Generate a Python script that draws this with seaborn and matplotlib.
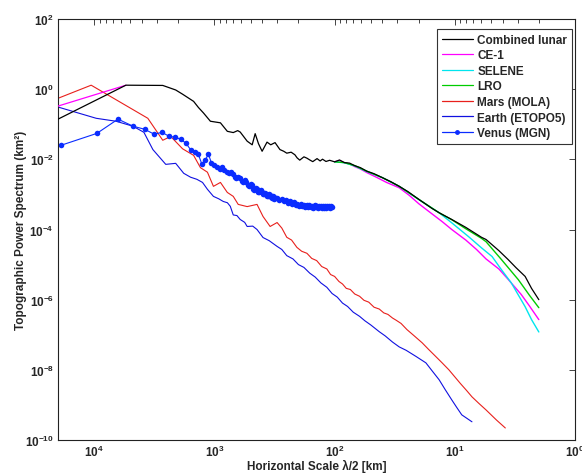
import matplotlib
matplotlib.use("Agg")
import matplotlib.pyplot as plt
import seaborn as sns
from matplotlib.ticker import LogLocator, NullLocator, NullFormatter
from matplotlib.lines import Line2D

# values: x = lambda/2 [km], y = power [km^2]
lunar_x = [20000, 5450, 2690, 2100, 1840, 1490, 1357, 1233, 1080, 891, 781, 697, 640, 610,
           534, 485, 458, 430, 401, 365, 340, 313, 285, 265, 250, 230, 214, 205, 195, 180,
           170, 160, 152, 140, 132, 126, 118, 110, 100, 91, 83, 75, 68, 61, 54, 47, 40, 34,
           29, 24.5, 19.9, 15.5, 13.5, 10.6, 8.1, 6.0, 5.5, 4.3, 3.6, 3.1, 2.6, 2.3, 2.0]
lunar_y = [0.14, 1.30, 1.28, 0.95, 0.72, 0.45, 0.30, 0.21, 0.122, 0.110, 0.063, 0.058, 0.066, 0.060,
           0.033, 0.026, 0.054, 0.028, 0.017, 0.031, 0.026, 0.030, 0.019, 0.017, 0.015, 0.016, 0.0135,
           0.0110, 0.0095, 0.0118, 0.0108, 0.0095, 0.0086, 0.0105, 0.0090, 0.0101, 0.0087, 0.0094,
           0.0085, 0.0096, 0.0081, 0.0078, 0.0066, 0.0058, 0.0046, 0.0039, 0.0030, 0.0023, 0.0017,
           0.0012, 7.2e-4, 4.0e-4, 3.0e-4, 1.93e-4, 1.15e-4, 6.0e-5, 5.2e-5, 2.5e-5, 1.39e-5,
           8.2e-6, 4.6e-6, 2.1e-6, 1.0e-6]

ce1_left_x = [20000, 5450]
ce1_left_y = [0.33, 1.30]
ce1_x = [100, 91, 83, 75, 68, 61, 54, 45, 37, 29, 24, 19.9, 15.5, 12.8, 10.6, 8.1, 6.6, 5.5,
         4.3, 3.6, 2.8, 2.4, 2.0]
ce1_y = [0.0085, 0.0093, 0.0080, 0.0074, 0.0062, 0.0053, 0.0042, 0.0031, 0.0022, 0.00155,
         9.5e-4, 5.4e-4, 2.8e-4, 1.7e-4, 1.0e-4, 5.0e-5, 2.7e-5, 1.45e-5, 7.5e-6, 3.8e-6,
         1.4e-6, 6.7e-7, 2.7e-7]

selene_x = [100, 83, 68, 54, 40, 29, 19.9, 13.5, 10.6, 7.7, 6.0, 4.9, 4.1, 3.4, 2.6, 2.3, 2.0]
selene_y = [0.0085, 0.0080, 0.0065, 0.0045, 0.0030, 0.0017, 7.1e-4, 3.0e-4, 1.55e-4, 6.3e-5,
            3.0e-5, 1.7e-5, 7.2e-6, 3.06e-6, 6.3e-7, 2.7e-7, 1.2e-7]

lro_x = [100, 83, 68, 54, 40, 29, 19.9, 13.5, 10.6, 8.1, 6.0, 5.5, 4.1, 2.96, 2.4, 2.0]
lro_y = [0.0085, 0.0081, 0.0066, 0.0046, 0.0030, 0.0017, 7.2e-4, 3.0e-4, 1.9e-4, 1.05e-4,
         5.6e-5, 4.5e-5, 1.4e-5, 3.7e-6, 1.35e-6, 5.9e-7]

mars_x = [20000, 10600, 3580, 2690, 2310, 1840, 1490, 1307, 1143, 1019, 891, 781, 697, 634,
          534, 442, 394, 344, 301, 275, 250, 228, 206, 188, 170, 155, 141, 128, 116, 108, 100,
          92, 86, 80, 74, 68, 62, 57, 52, 47, 42.5, 39, 36, 33, 30.8, 28, 25, 22, 18.7, 16.5,
          14.5, 12.8, 11.2, 10, 9, 8, 7.2, 6.3, 5.5, 4.5, 3.8]
mars_y = [0.55, 1.30, 0.148, 0.035, 0.045, 0.020, 0.013, 0.0058, 0.0043, 0.0017, 0.0022,
          0.00114, 8.8e-4, 5.2e-4, 4.5e-4, 5.2e-4, 2.35e-4, 1.22e-4, 1.58e-4, 1.1e-4, 6.0e-5,
          5.0e-5, 3.1e-5, 2.4e-5, 2.1e-5, 1.5e-5, 1.3e-5, 8.8e-6, 7.5e-6, 5.2e-6, 4.6e-6,
          3.3e-6, 2.8e-6, 2.1e-6, 1.95e-6, 1.45e-6, 1.25e-6, 9.6e-7, 8.5e-7, 6.1e-7, 5.4e-7,
          4.2e-7, 3.8e-7, 3.0e-7, 2.6e-7, 2.1e-7, 1.4e-7, 9.6e-8, 5.9e-8, 3.8e-8, 2.45e-8,
          1.6e-8, 1.0e-8, 6.3e-9, 4.1e-9, 2.6e-9, 1.7e-9, 1.1e-9, 7.2e-10, 3.7e-10, 2.2e-10]

earth_x = [20000, 9620, 6580, 4760, 3860, 3250, 2540, 2100, 1800, 1580, 1400, 1256, 1143, 1019,
           920, 844, 780, 738, 697, 650, 610, 560, 534, 480, 442, 394, 350, 301, 275, 250, 222,
           200, 180, 161, 145, 130, 116, 105, 95, 86, 78, 70, 62, 56, 50, 42.5, 38, 33, 29,
           25.4, 21, 17.4, 15.5, 13.5, 12, 10.6, 9.6, 8.75, 7.9, 7.2]
earth_y = [0.31, 0.148, 0.122, 0.088, 0.059, 0.019, 0.0072, 0.0077, 0.0040, 0.0031, 0.0027,
           0.0022, 0.0014, 8.8e-4, 7.5e-4, 6.3e-4, 5.8e-4, 4.6e-4, 2.6e-4, 2.5e-4, 1.93e-4,
           1.6e-4, 1.22e-4, 1.25e-4, 1.0e-4, 5.9e-5, 4.8e-5, 3.3e-5, 2.7e-5, 1.8e-5, 1.45e-5,
           1.0e-5, 8.3e-6, 5.7e-6, 4.4e-6, 3.0e-6, 2.25e-6, 1.5e-6, 1.18e-6, 8.0e-7, 6.4e-7,
           4.4e-7, 3.35e-7, 2.5e-7, 1.9e-7, 1.22e-7, 9.3e-8, 6.2e-8, 4.5e-8, 3.6e-8, 2.4e-8,
           1.58e-8, 9.5e-9, 5.2e-9, 2.7e-9, 1.39e-9, 8.3e-10, 5.2e-10, 4.1e-10, 3.3e-10]

venus_x = [19000, 9500, 6340, 4750, 3800, 3170, 2720, 2380, 2110, 1900, 1730, 1580, 1460, 1360,
           1270, 1190, 1120, 1060, 1000, 951,
           905, 864, 827, 792, 760, 731, 704, 679, 656, 634, 613, 594, 576, 559, 543, 528, 514,
           500, 487, 475, 464, 453, 442, 432, 422, 413, 404, 396, 388, 380, 373, 366, 359, 352,
           346, 340, 334, 328, 322, 317,
           302, 288, 276, 264, 254, 244, 235, 226, 219, 211, 204, 198, 192, 186, 181, 176, 171,
           167, 163, 158, 155, 151, 147, 144, 141, 138, 135, 132, 129, 127, 124, 122, 120, 117,
           115, 113, 111, 109, 107, 106]
venus_y = [0.025, 0.055, 0.140, 0.088, 0.072, 0.052, 0.059, 0.045, 0.043, 0.037, 0.029, 0.019,
           0.0158, 0.0139, 0.0072, 0.0098, 0.0139, 0.0080, 0.0068, 0.0062,
           5.2e-3, 5.9e-3, 5.0e-3, 4.4e-3, 4.0e-3, 4.3e-3, 3.9e-3, 3.1e-3, 2.9e-3, 3.2e-3,
           2.9e-3, 2.4e-3, 2.3e-3, 2.5e-3, 2.3e-3, 1.85e-3, 1.75e-3, 2.0e-3, 1.8e-3, 1.45e-3,
           1.38e-3, 1.55e-3, 1.45e-3, 1.2e-3, 1.15e-3, 1.3e-3, 1.2e-3, 1.05e-3, 1.0e-3, 1.12e-3,
           1.05e-3, 9.2e-4, 9.0e-4, 1.0e-3, 9.4e-4, 8.3e-4, 8.0e-4, 9.0e-4, 8.6e-4, 7.6e-4,
           8.1e-4, 6.8e-4, 7.3e-4, 6.3e-4, 6.8e-4, 5.7e-4, 6.3e-4, 5.4e-4, 5.9e-4, 5.0e-4,
           5.5e-4, 4.8e-4, 5.3e-4, 4.6e-4, 5.1e-4, 4.5e-4, 5.0e-4, 4.4e-4, 4.9e-4, 4.3e-4,
           4.8e-4, 4.2e-4, 4.9e-4, 4.3e-4, 4.7e-4, 4.1e-4, 4.8e-4, 4.3e-4, 4.6e-4, 4.0e-4,
           4.7e-4, 4.2e-4, 4.6e-4, 4.1e-4, 4.7e-4, 4.3e-4, 4.8e-4, 4.2e-4, 4.6e-4, 4.4e-4]

sns.set_style("white")
plt.rcParams["font.family"] = ["Liberation Sans", "DejaVu Sans"]
plt.rcParams["font.weight"] = "bold"
plt.rcParams["axes.labelweight"] = "bold"

fig, ax = plt.subplots(figsize=(5.82, 4.77), dpi=100)
fig.subplots_adjust(left=0.0997, right=0.988, bottom=0.0755, top=0.958)

kw = dict(ax=ax, estimator=None, sort=False, legend=False)
sns.lineplot(x=lunar_x, y=lunar_y, color="black", lw=0.9, zorder=4, **kw)
sns.lineplot(x=ce1_left_x, y=ce1_left_y, color="#ff00ff", lw=0.9, zorder=3, **kw)
sns.lineplot(x=ce1_x, y=ce1_y, color="#ff00ff", lw=1.0, zorder=3, **kw)
sns.lineplot(x=selene_x, y=selene_y, color="#00e5ee", lw=1.0, zorder=3, **kw)
sns.lineplot(x=lro_x, y=lro_y, color="#00cc00", lw=1.0, zorder=3, **kw)
sns.lineplot(x=mars_x, y=mars_y, color="#e8201c", lw=0.8, zorder=2, **kw)
sns.lineplot(x=earth_x, y=earth_y, color="#1010e0", lw=0.8, zorder=2, **kw)
sns.lineplot(x=venus_x, y=venus_y, color="#0a2cff", lw=0.8, marker=".", markersize=8,
             markeredgewidth=0, zorder=2, **kw)

ax.set_xscale("log")
ax.set_yscale("log")
ax.set_xlim(2e4, 1)
ax.set_ylim(1e-10, 1e2)

ax.xaxis.set_major_locator(LogLocator(base=10))
ax.xaxis.set_minor_locator(LogLocator(base=10, subs=range(2, 10)))
ax.xaxis.set_minor_formatter(NullFormatter())
ax.yaxis.set_major_locator(LogLocator(base=100))
ax.yaxis.set_minor_locator(NullLocator())

ax.tick_params(which="both", direction="in", top=True, right=True, color="#444444", width=0.7)
ax.tick_params(which="major", length=4.5, labelsize=8.5, pad=3)
ax.tick_params(which="minor", length=2.8)
for s in ax.spines.values():
    s.set_color("#222222")
    s.set_linewidth(0.8)

ax.set_xlabel("Horizontal Scale λ/2 [km]", fontsize=8.5, fontweight="bold", labelpad=0)
ax.set_ylabel("Topographic Power Spectrum (km²)", fontsize=8.5, fontweight="bold", labelpad=-1.5)

labels = ["Combined lunar", "CE-1", "SELENE", "LRO", "Mars (MOLA)", "Earth (ETOPO5)", "Venus (MGN)"]
colors = ["black", "#ff00ff", "#00e5ee", "#00cc00", "#e8201c", "#1010e0", "#0a2cff"]
handles = [Line2D([], [], color=c, lw=0.9) for c in colors[:-1]]
handles.append(Line2D([], [], color=colors[-1], lw=0.9, marker=".", markersize=5))
leg = ax.legend(handles, labels, loc="upper right", bbox_to_anchor=(0.994, 0.976),
                borderaxespad=0, fancybox=False, framealpha=1, edgecolor="#333333",
                fontsize=8.5, handlelength=2.6, handletextpad=0.4, labelspacing=0.3,
                borderpad=0.4)
leg.get_frame().set_linewidth(0.8)

plt.savefig("out.png", dpi=100)
